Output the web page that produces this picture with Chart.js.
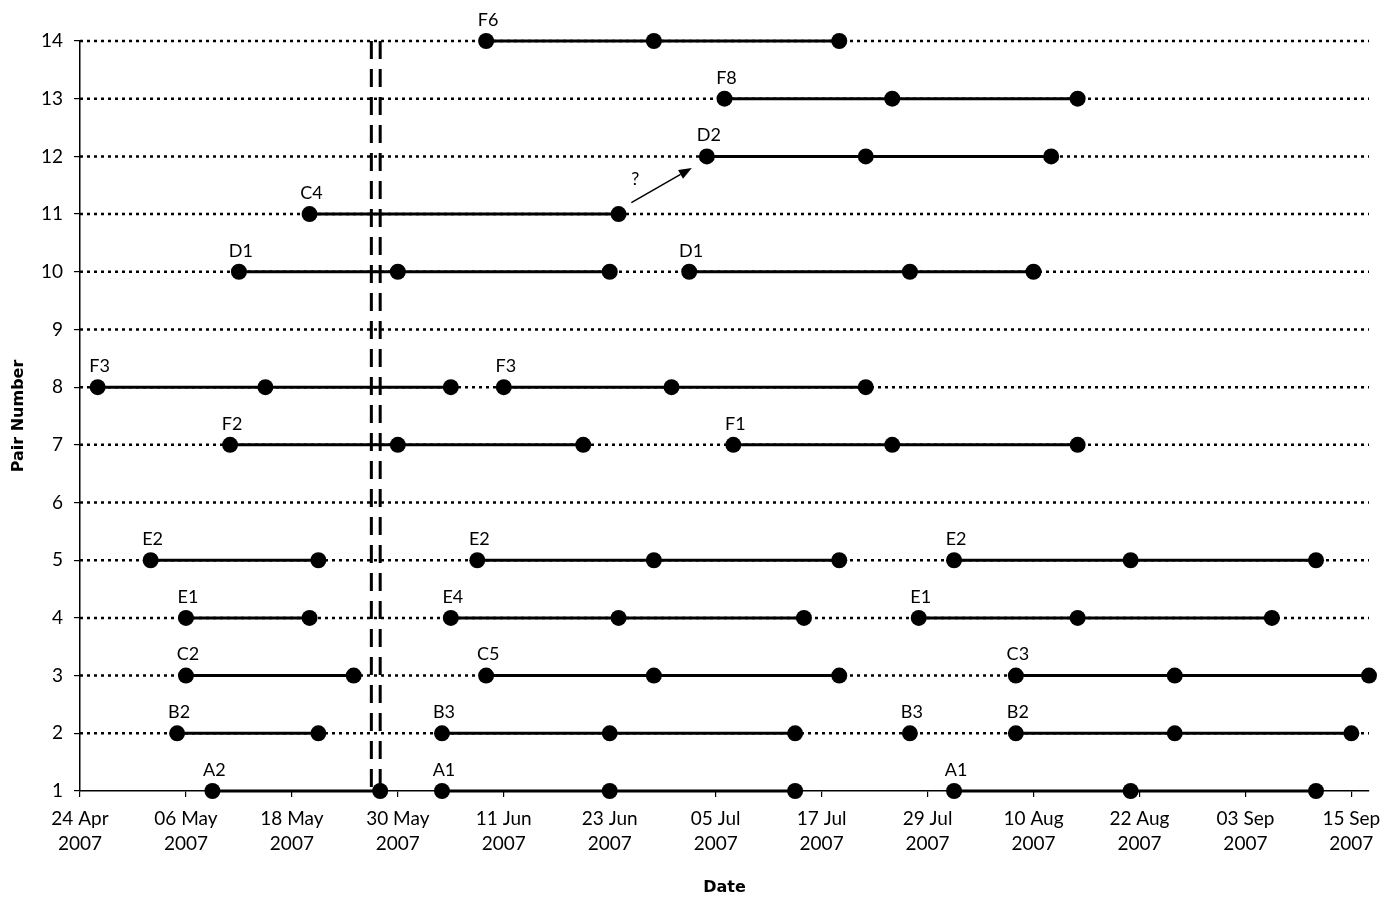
<!DOCTYPE html>
<html>
<head>
<meta charset="utf-8">
<script src="https://cdn.jsdelivr.net/npm/chart.js@4.4.1/dist/chart.umd.min.js"></script>
<style>
  html, body { margin: 0; padding: 0; background: #fff; }
</style>
</head>
<body>
<canvas id="myChart" width="1393" height="897"></canvas>
<script>
// Each segment: pair number, label, dates (2007, MM-DD)
const segPairs = [14, 13, 12, 11, 10, 10, 8, 8, 7, 7, 5, 5, 5, 4, 4, 4, 3, 3, 3, 2, 2, 2, 2, 1, 1, 1];
const segLabels = ['F6', 'F8', 'D2', 'C4', 'D1', 'D1', 'F3', 'F3', 'F2', 'F1', 'E2', 'E2', 'E2',
    'E1', 'E4', 'E1', 'C2', 'C5', 'C3', 'B2', 'B3', 'B3', 'B2', 'A2', 'A1', 'A1'];
const segDates = [
    ['06-09', '06-28', '07-19'],
    ['07-06', '07-25', '08-15'],
    ['07-04', '07-22', '08-12'],
    ['05-20', '06-24'],
    ['05-12', '05-30', '06-23'],
    ['07-02', '07-27', '08-10'],
    ['04-26', '05-15', '06-05'],
    ['06-11', '06-30', '07-22'],
    ['05-11', '05-30', '06-20'],
    ['07-07', '07-25', '08-15'],
    ['05-02', '05-21'],
    ['06-08', '06-28', '07-19'],
    ['08-01', '08-21', '09-11'],
    ['05-06', '05-20'],
    ['06-05', '06-24', '07-15'],
    ['07-28', '08-15', '09-06'],
    ['05-06', '05-25'],
    ['06-09', '06-28', '07-19'],
    ['08-08', '08-26', '09-17'],
    ['05-05', '05-21'],
    ['06-04', '06-23', '07-14'],
    ['07-27'],
    ['08-08', '08-26', '09-15'],
    ['05-09', '05-28'],
    ['06-04', '06-23', '07-14'],
    ['08-01', '08-21', '09-11']
];

// x axis
const startDate = '04-24';
const endDate = '09-17';
const tickDates = ['04-24', '05-06', '05-18', '05-30', '06-11', '06-23', '07-05',
    '07-17', '07-29', '08-10', '08-22', '09-03', '09-15'];
const tickLabels = [['24 Apr', '2007'], ['06 May', '2007'], ['18 May', '2007'], ['30 May', '2007'],
    ['11 Jun', '2007'], ['23 Jun', '2007'], ['05 Jul', '2007'], ['17 Jul', '2007'], ['29 Jul', '2007'],
    ['10 Aug', '2007'], ['22 Aug', '2007'], ['03 Sep', '2007'], ['15 Sep', '2007']];

// y axis
const pairMin = 1;
const pairMax = 14;

// double dashed break line
const breakDates = ['05-27', '05-28'];

// "?" arrow from C4 towards D2 (x in days from 24 Apr, y in pair number)
const arrowFrom = [62.45, 11.2];
const arrowTo = [69.3, 11.8];
const arrowText = '?';
const arrowTextPos = [62.9, 11.6];

const FONT = 'Lato, "DejaVu Sans", sans-serif';
const TITLE_FONT = '"DejaVu Sans", sans-serif';

function dayOf(s) {
    const [m, d] = s.split('-').map(Number);
    const [m0, d0] = startDate.split('-').map(Number);
    return (Date.UTC(2007, m - 1, d) - Date.UTC(2007, m0 - 1, d0)) / 86400000;
}

const datasets = [];

// segments (on top)
segDates.forEach((dates, i) => {
    datasets.push({
        data: dates.map(d => ({ x: dayOf(d), y: segPairs[i] })),
        showLine: true,
        borderColor: '#000',
        borderWidth: 3,
        pointRadius: 8,
        pointBackgroundColor: '#000',
        pointBorderWidth: 0,
        clip: false,
        order: 0
    });
});

// double dashed vertical line
breakDates.forEach(d => {
    datasets.push({
        data: [{ x: dayOf(d), y: pairMax }, { x: dayOf(d), y: pairMin }],
        showLine: true,
        borderColor: '#000',
        borderWidth: 3,
        borderDash: [18, 10],
        pointRadius: 0,
        clip: false,
        order: 1
    });
});

// dotted horizontal gridlines
for (let p = pairMin + 1; p <= pairMax; p++) {
    datasets.push({
        data: [{ x: 0, y: p }, { x: dayOf(endDate), y: p }],
        showLine: true,
        borderColor: '#000',
        borderWidth: 2.5,
        borderDash: [3, 4],
        pointRadius: 0,
        clip: false,
        order: 2
    });
}

const labelPlugin = {
    id: 'segLabels',
    afterDatasetsDraw(chart) {
        const { ctx, scales: { x, y } } = chart;
        ctx.save();
        ctx.fillStyle = '#000';
        ctx.strokeStyle = '#000';
        ctx.font = '18px ' + FONT;
        ctx.textAlign = 'center';
        ctx.textBaseline = 'middle';
        segLabels.forEach((lab, i) => {
            const px = x.getPixelForValue(dayOf(segDates[i][0]));
            const py = y.getPixelForValue(segPairs[i]);
            ctx.fillText(lab, px + 2, py - 21);
        });

        // arrow
        const x1 = x.getPixelForValue(arrowFrom[0]), y1 = y.getPixelForValue(arrowFrom[1]);
        const x2 = x.getPixelForValue(arrowTo[0]), y2 = y.getPixelForValue(arrowTo[1]);
        const ang = Math.atan2(y2 - y1, x2 - x1);
        const hl = 13, hw = 5;
        ctx.lineWidth = 1.5;
        ctx.beginPath();
        ctx.moveTo(x1, y1);
        ctx.lineTo(x2 - hl * Math.cos(ang), y2 - hl * Math.sin(ang));
        ctx.stroke();
        ctx.beginPath();
        ctx.moveTo(x2, y2);
        ctx.lineTo(x2 - hl * Math.cos(ang) + hw * Math.sin(ang), y2 - hl * Math.sin(ang) - hw * Math.cos(ang));
        ctx.lineTo(x2 - hl * Math.cos(ang) - hw * Math.sin(ang), y2 - hl * Math.sin(ang) + hw * Math.cos(ang));
        ctx.closePath();
        ctx.fill();

        ctx.font = '18px ' + FONT;
        ctx.fillText(arrowText, x.getPixelForValue(arrowTextPos[0]), y.getPixelForValue(arrowTextPos[1]));
        ctx.restore();
    }
};

const ctx = document.getElementById('myChart').getContext('2d');
const myChart = new Chart(ctx, {
    type: 'scatter',
    data: { datasets: datasets },
    options: {
        responsive: false,
        animation: false,
        layout: { padding: { top: 41, right: 24, bottom: 0, left: 0 } },
        plugins: {
            legend: { display: false },
            tooltip: { enabled: false }
        },
        scales: {
            x: {
                type: 'linear',
                min: 0,
                max: dayOf(endDate),
                afterBuildTicks: s => { s.ticks = tickDates.map(d => ({ value: dayOf(d) })); },
                afterFit: s => { s.height = 106; },
                ticks: {
                    callback: (v, i) => tickLabels[i],
                    maxRotation: 0,
                    autoSkip: false,
                    color: '#000',
                    padding: 10,
                    font: { family: FONT, size: 19, lineHeight: 1.3 }
                },
                grid: { drawOnChartArea: false, tickLength: 6, color: '#000', lineWidth: 1.2 },
                border: { color: '#000', width: 1.5 },
                title: {
                    display: true,
                    text: 'Date',
                    color: '#000',
                    padding: { top: 0, bottom: 0 },
                    font: { family: TITLE_FONT, size: 16, weight: 'bold' }
                }
            },
            y: {
                type: 'linear',
                min: pairMin,
                max: pairMax,
                afterFit: s => { s.width = 80; },
                ticks: {
                    stepSize: 1,
                    color: '#000',
                    padding: 11,
                    font: { family: FONT, size: 19 }
                },
                grid: { drawOnChartArea: false, tickLength: 6, color: '#000', lineWidth: 1.2 },
                border: { color: '#000', width: 1.5 },
                title: {
                    display: true,
                    text: 'Pair Number',
                    color: '#000',
                    padding: { top: 9, bottom: 0 },
                    font: { family: TITLE_FONT, size: 16, weight: 'bold' }
                }
            }
        }
    },
    plugins: [labelPlugin]
});
</script>
</body>
</html>
